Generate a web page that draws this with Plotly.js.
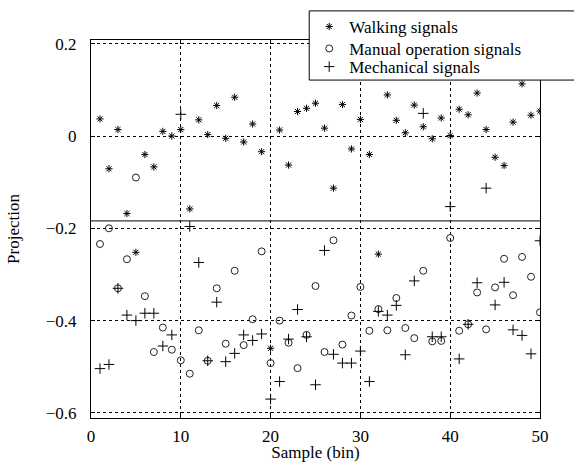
<!DOCTYPE html>
<html>
<head>
<meta charset="utf-8">
<script src="https://cdn.plot.ly/plotly-3.0.1.min.js"></script>
<style>
  html, body { margin: 0; padding: 0; background: #fff; }
  #chart { width: 574px; height: 462px; }
</style>
</head>
<body>
<div id="chart"></div>
<script>
// Sample index (bin)
const samples = [1,2,3,4,5,6,7,8,9,10,11,12,13,14,15,16,17,18,19,20,21,22,23,24,25,26,27,28,29,30,31,32,33,34,35,36,37,38,39,40,41,42,43,44,45,46,47,48,49,50];

// Projection values
const walking = [0.037,-0.071,0.014,-0.168,-0.252,-0.040,-0.067,0.010,0.000,0.014,
                 -0.158,0.035,0.003,0.066,-0.005,0.084,-0.013,0.026,-0.034,-0.460,
                 0.013,-0.063,0.053,0.060,0.071,0.017,-0.113,0.068,-0.028,0.036,
                 -0.040,-0.256,0.089,0.034,0.007,0.067,0.020,-0.006,0.039,0.001,
                 0.058,0.046,0.093,0.014,-0.046,-0.064,0.030,0.113,0.045,0.054];

const manual = [-0.234,-0.200,-0.330,-0.267,-0.090,-0.347,-0.468,-0.415,-0.463,-0.486,
                -0.515,-0.421,-0.487,-0.330,-0.450,-0.292,-0.453,-0.397,-0.250,-0.492,
                -0.400,-0.448,-0.503,-0.431,-0.325,-0.468,-0.226,-0.452,-0.389,-0.327,
                -0.422,-0.375,-0.421,-0.351,-0.416,-0.438,-0.292,-0.445,-0.444,-0.221,
                -0.422,-0.408,-0.339,-0.419,-0.328,-0.266,-0.345,-0.262,-0.305,-0.382];

const mechanical = [-0.504,-0.495,-0.330,-0.388,-0.400,-0.384,-0.384,-0.455,-0.431,0.047,
                    -0.196,-0.274,-0.487,-0.360,-0.489,-0.471,-0.431,-0.443,-0.429,-0.570,
                    -0.532,-0.440,-0.376,-0.435,-0.539,-0.248,-0.473,-0.492,-0.492,-0.466,
                    -0.532,-0.380,-0.388,-0.367,-0.474,-0.314,0.049,-0.435,-0.435,-0.153,
                    -0.483,-0.408,-0.318,-0.113,-0.366,-0.317,-0.420,-0.432,-0.472,-0.227];

const seriesNames = ["Walking signals", "Manual operation signals", "Mechanical signals"];
const xTicks = [0, 10, 20, 30, 40, 50];
const yTicks = [-0.6, -0.4, -0.2, 0, 0.2];
const yTickText = ["\u22120.6", "\u22120.4", "\u22120.2", "0", "0.2"];
const threshold = -0.184;

const FONT = "'Liberation Serif', 'Times New Roman', Times, serif";

const traces = [
  {
    x: samples, y: walking, name: seriesNames[0], type: "scatter", mode: "markers", legend: "legend",
    marker: { symbol: "asterisk-open", size: 6, color: "#000", line: { color: "#000", width: 1 } }
  },
  {
    x: samples, y: manual, name: seriesNames[1], type: "scatter", mode: "markers", legend: "legend2",
    marker: { symbol: "circle-open", size: 7, color: "#222", line: { color: "#222", width: 1 } }
  },
  {
    x: samples, y: mechanical, name: seriesNames[2], type: "scatter", mode: "markers", legend: "legend3",
    marker: { symbol: "cross-thin-open", size: 7.5, color: "#000", line: { color: "#000", width: 1 } }
  }
];

const axisCommon = {
  showline: true, linecolor: "#000", linewidth: 1, mirror: "ticks",
  ticks: "inside", ticklen: 4, tickcolor: "#000", tickwidth: 1,
  showgrid: true, gridcolor: "#000", gridwidth: 1, griddash: "3px,3px",
  zeroline: false,
  tickfont: { family: FONT, size: 17, color: "#000" }
};

function legendAt(yTop) {
  return {
    x: 0.486, y: yTop, xanchor: "left", yanchor: "top",
    bgcolor: "rgba(0,0,0,0)", borderwidth: 0,
    font: { family: FONT, size: 17, color: "#000" }
  };
}

const layout = {
  width: 574, height: 462,
  margin: { l: 91, r: 34, t: 40, b: 44, autoexpand: false },
  paper_bgcolor: "#fff", plot_bgcolor: "#fff",
  font: { family: FONT, size: 17, color: "#000" },
  xaxis: Object.assign({}, axisCommon, {
    range: [0, 50], tickvals: xTicks, ticklabelstandoff: 3,
    title: { text: "Sample (bin)", font: { family: FONT, size: 17, color: "#000" }, standoff: 3 }
  }),
  yaxis: Object.assign({}, axisCommon, {
    range: [-0.611, 0.208], tickvals: yTicks, ticktext: yTickText, ticklabelstandoff: 10,
    title: { text: "Projection", font: { family: FONT, size: 17, color: "#000" }, standoff: 21 }
  }),
  showlegend: true,
  legend: legendAt(1.082),
  legend2: legendAt(1.024),
  legend3: legendAt(0.976),
  shapes: [
    { type: "line", xref: "paper", x0: 0, x1: 1, yref: "y", y0: threshold, y1: threshold,
      line: { color: "#000", width: 1 }, layer: "above" },
    { type: "rect", xref: "paper", x0: 0.486, x1: 1.3, yref: "paper", y0: 0.894, y1: 1.077,
      line: { color: "#000", width: 1 }, fillcolor: "#fff", layer: "above" }
  ]
};

Plotly.newPlot("chart", traces, layout, { staticPlot: true, displayModeBar: false });
</script>
</body>
</html>
